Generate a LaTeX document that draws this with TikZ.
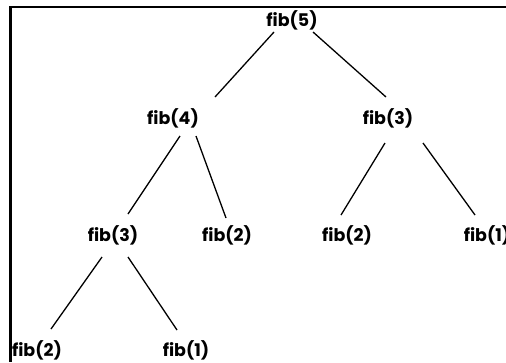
\documentclass[tikz,border=0pt]{standalone}
\usepackage{fontspec}
\setmainfont{Poppins}
\usetikzlibrary{positioning}

\begin{document}
\begin{tikzpicture}[
    x=1bp, y=-1bp,
    call/.style={inner sep=0pt, font=\bfseries\fontsize{17.5}{20}\selectfont},
    edge/.style={line width=1.3bp},
    frame/.style={line width=2.3bp}
]
\useasboundingbox (0,0) rectangle (506,362);
\clip (0,0) rectangle (506,362);
\draw[frame] (506,7) -- (10.5,7) -- (10.5,362);

\node[call] (f5) at (292,20) {fib(5)};
\node[call] (f4) at (173,118) {fib(4)};
\node[call] (f3r) at (388,118) {fib(3)};
\node[call] (f3) at (113,235) {fib(3)};
\node[call] (f2a) at (227,235) {fib(2)};
\node[call] (f2b) at (347,235) {fib(2)};
\node[call] (f1r) at (487,235) {fib(1)};
\node[call] (f2c) at (37,350) {fib(2)};
\node[call] (f1c) at (186,350) {fib(1)};

\draw[edge] ([shift={(-18,12)}]f5.center) -- ([shift={(42,-21)}]f4.center);
\draw[edge] ([shift={(21,12)}]f5.center) -- ([shift={(-2,-21)}]f3r.center);
\draw[edge] ([shift={(7,18)}]f4.center) -- ([shift={(15,-21)}]f3.center);
\draw[edge] ([shift={(23,18)}]f4.center) -- ([shift={(-1,-17)}]f2a.center);
\draw[edge] ([shift={(-3,25)}]f3r.center) -- ([shift={(-6,-20)}]f2b.center);
\draw[edge] ([shift={(35,25)}]f3r.center) -- ([shift={(-12,-20)}]f1r.center);
\draw[edge] ([shift={(-11,22)}]f3.center) -- ([shift={(14,-21)}]f2c.center);
\draw[edge] ([shift={(15,22)}]f3.center) -- ([shift={(-9,-20)}]f1c.center);
\end{tikzpicture}
\end{document}
